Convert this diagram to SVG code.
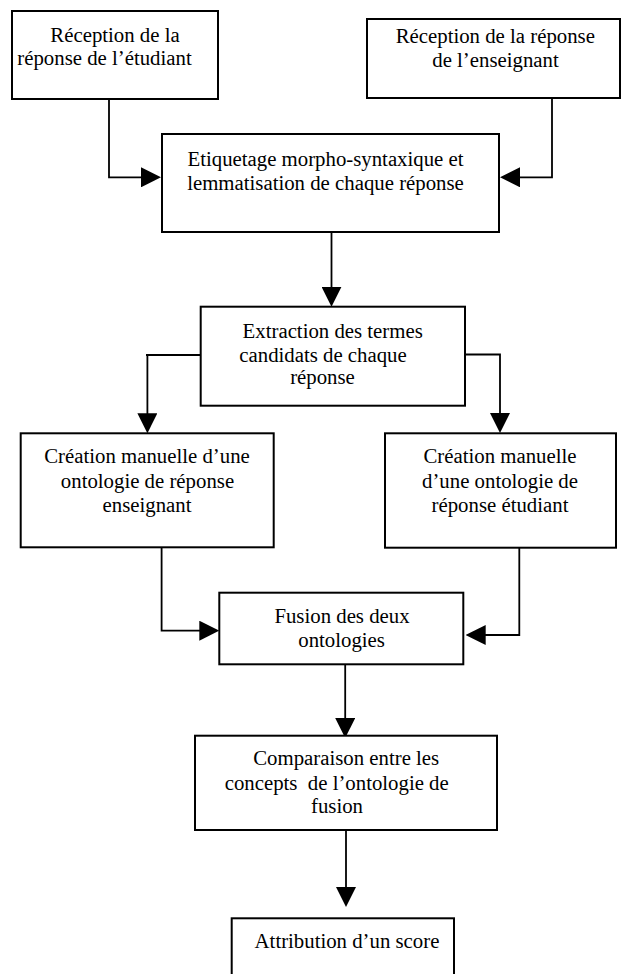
<svg xmlns="http://www.w3.org/2000/svg" width="624" height="974" viewBox="0 0 624 974">
<style>
.box{fill:#fff;stroke:#000;stroke-width:2}
.t{font-family:"Liberation Serif","Times New Roman",serif;font-size:20.8px;fill:#000;text-anchor:middle;white-space:pre}
.c{fill:none;stroke:#000;stroke-width:1.8}
</style>
<defs>
<marker id="ah" markerUnits="userSpaceOnUse" markerWidth="20" markerHeight="20" refX="10" refY="10" orient="auto">
<path d="M0,0 L20,10 L0,20 z" fill="#000"/>
</marker>
</defs>
<rect width="624" height="974" fill="#fff"/>
<g id="connectors">
<path class="c" d="M109,99 V177.3 H151" marker-end="url(#ah)"/>
<path class="c" d="M552,98 V177.3 H510" marker-end="url(#ah)"/>
<path class="c" d="M331.5,232 V296.7" marker-end="url(#ah)"/>
<path class="c" d="M200.7,355 H146 M147.4,355 V423.3" marker-end="url(#ah)"/>
<path class="c" d="M465,354.5 H500 V423" marker-end="url(#ah)"/>
<path class="c" d="M161.6,547.3 V630.7 H209.3" marker-end="url(#ah)"/>
<path class="c" d="M519.3,547.7 V635 H475.7" marker-end="url(#ah)"/>
<path class="c" d="M345.2,664.3 V728" marker-end="url(#ah)"/>
<path class="c" d="M346,830 V897" marker-end="url(#ah)"/>
</g>
<g id="n1">
<rect class="box" x="12" y="11" width="206" height="88"/>
<text class="t" x="115" y="42">Réception de la</text>
<text class="t" x="104.5" y="65">réponse de l’étudiant</text>
</g>
<g id="n2">
<rect class="box" x="367" y="19" width="253" height="79"/>
<text class="t" x="495.3" y="43.3">Réception de la réponse</text>
<text class="t" x="495.5" y="66.7">de l’enseignant</text>
</g>
<g id="n3">
<rect class="box" x="162" y="134" width="337" height="98"/>
<text class="t" x="325.5" y="165.5">Etiquetage morpho-syntaxique et</text>
<text class="t" x="325.5" y="189.5">lemmatisation de chaque réponse</text>
</g>
<g id="n4">
<rect class="box" x="200.7" y="306.7" width="264.3" height="99"/>
<text class="t" x="332.7" y="338.3">Extraction des termes</text>
<text class="t" x="323" y="361.7">candidats de chaque</text>
<text class="t" x="322.5" y="384.3">réponse</text>
</g>
<g id="n5">
<rect class="box" x="20.7" y="433.3" width="253" height="114"/>
<text class="t" x="147" y="463.3">Création manuelle d’une</text>
<text class="t" x="147.5" y="487.5">ontologie de réponse</text>
<text class="t" x="147" y="511.5">enseignant</text>
</g>
<g id="n6">
<rect class="box" x="385" y="433.3" width="231" height="114.4"/>
<text class="t" x="500" y="463.3">Création manuelle</text>
<text class="t" x="500" y="487.5">d’une ontologie de</text>
<text class="t" x="500" y="511.5">réponse étudiant</text>
</g>
<g id="n7">
<rect class="box" x="219.3" y="592.7" width="244" height="71.6"/>
<text class="t" x="342" y="623.3">Fusion des deux</text>
<text class="t" x="341.6" y="646.7">ontologies</text>
</g>
<g id="n8">
<rect class="box" x="195" y="735.7" width="302" height="94.3"/>
<text class="t" x="346.2" y="765">Comparaison entre les</text>
<text class="t" x="336.7" y="790">concepts  de l’ontologie de</text>
<text class="t" x="337" y="813.3">fusion</text>
</g>
<g id="n9">
<rect class="box" x="231.7" y="918.3" width="222.3" height="70"/>
<text class="t" x="347" y="948.3">Attribution d’un score</text>
</g>
</svg>
